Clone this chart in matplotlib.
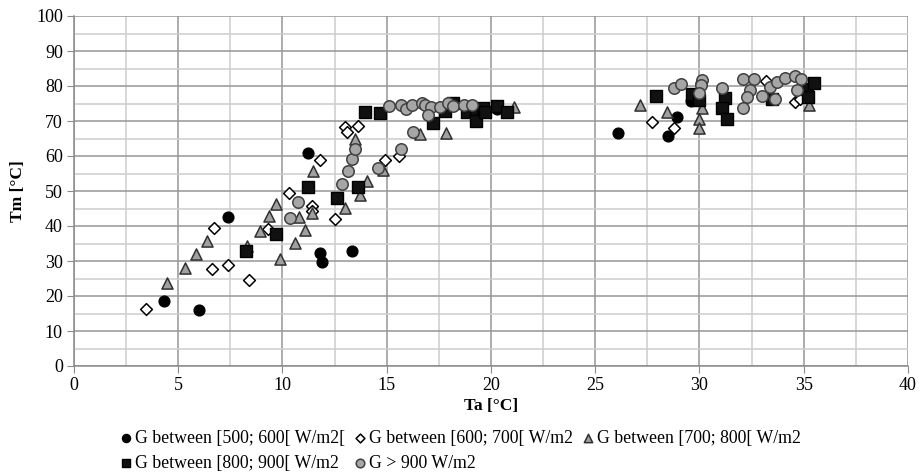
import matplotlib
matplotlib.use("Agg")
import matplotlib.pyplot as plt
from matplotlib.ticker import MultipleLocator

plt.rcParams['font.family'] = ['Liberation Serif', 'DejaVu Serif']

labels = ["G between [500; 600[ W/m2[", "G between [600; 700[ W/m2",
          "G between [700; 800[ W/m2", "G between [800; 900[ W/m2", "G > 900 W/m2"]

s1_x = [4.3, 6.0, 7.4, 11.2, 11.8, 11.9, 13.35, 20.3, 26.1, 28.5, 28.9, 29.6]
s1_y = [18.5, 16.0, 42.6, 61.0, 32.2, 29.8, 32.8, 73.5, 66.7, 65.7, 71.1, 75.6]

s2_x = [3.45, 6.6, 6.7, 7.4, 8.4, 9.3, 10.3, 11.4, 11.4, 11.8, 12.5, 13.0, 13.1, 13.6,
        14.9, 15.6, 27.7, 28.8, 33.2, 34.6, 34.8]
s2_y = [16.3, 27.7, 39.4, 28.8, 24.6, 39.1, 49.4, 45.7, 44.3, 58.9, 41.9, 68.3, 66.8, 68.5,
        58.9, 59.9, 69.7, 68.0, 81.3, 75.4, 76.2]

s3_x = [4.46, 5.3, 5.85, 6.4, 8.3, 8.9, 9.35, 9.7, 9.9, 10.6, 10.8, 11.1, 11.4, 11.45,
        13.0, 13.5, 13.7, 14.05, 14.8, 16.6, 17.85, 21.1, 27.15, 28.45, 30.1, 30.0, 30.0, 35.25]
s3_y = [23.8, 28.0, 32.0, 35.7, 34.2, 38.6, 42.9, 46.3, 30.6, 35.1, 42.5, 38.9, 43.7, 55.7,
        45.1, 64.9, 48.9, 52.9, 56.0, 66.3, 66.6, 74.0, 74.5, 72.6, 73.7, 70.6, 68.0, 74.7]

s4_x = [8.25, 9.7, 11.2, 12.6, 13.6, 13.95, 14.7, 17.2, 17.8, 18.2, 18.85, 19.3, 19.3, 19.6,
        19.7, 20.3, 20.75, 27.9, 29.65, 30.0, 31.2, 31.1, 31.3, 33.5, 35.15, 35.5, 35.2]
s4_y = [32.9, 37.7, 51.2, 48.0, 51.2, 72.6, 72.4, 69.5, 73.0, 75.2, 72.6, 72.6, 70.1, 73.6,
        72.6, 74.4, 72.6, 77.2, 77.8, 76.0, 76.5, 73.7, 70.6, 76.4, 79.1, 80.8, 76.8]

s5_x = [10.35, 10.75, 12.85, 13.15, 13.35, 13.5, 14.6, 15.7, 16.25, 15.1, 15.7, 15.9, 16.2,
        16.7, 16.85, 17.1, 17.0, 17.55, 17.95, 18.2, 18.7, 19.1, 28.8, 29.1, 30.05, 30.1,
        30.05, 30.0, 31.1, 32.1, 32.6, 32.4, 32.3, 32.1, 33.0, 33.4, 33.7, 33.6, 34.1, 34.6,
        34.85, 34.7]
s5_y = [42.3, 46.8, 52.0, 55.7, 59.1, 61.9, 56.6, 62.1, 66.9, 74.2, 74.6, 73.4, 74.5,
        75.1, 74.6, 74.0, 71.6, 74.1, 75.2, 74.3, 74.6, 74.5, 79.4, 80.7, 80.6, 81.6,
        80.3, 78.0, 79.3, 82.1, 82.1, 79.0, 76.9, 73.7, 77.2, 79.7, 81.1, 76.2, 82.4, 82.9,
        82.1, 78.9]

fig = plt.figure(figsize=(9.2, 4.74), dpi=100)
ax = fig.add_axes([74/920, 1-366/474, (908-74)/920, (366-16)/474])

h1 = ax.scatter(s1_x, s1_y, s=60, marker='o', facecolor='black', edgecolor='black', linewidth=1, zorder=3)
h2 = ax.scatter(s2_x, s2_y, s=36, marker='D', facecolor='white', edgecolor='black', linewidth=1.1, zorder=4)
h3 = ax.scatter(s3_x, s3_y, s=64, marker='^', facecolor='#a0a0a0', edgecolor='#303030', linewidth=1.1, zorder=5)
h4 = ax.scatter(s4_x, s4_y, s=64, marker='s', facecolor='#111111', edgecolor='black', linewidth=1, zorder=6)
h5 = ax.scatter(s5_x, s5_y, s=68, marker='o', facecolor='#a6a6a6', edgecolor='#404040', linewidth=1.1, zorder=7)

ax.set_xlim(0, 40)
ax.set_ylim(0, 100)
ax.xaxis.set_major_locator(MultipleLocator(5))
ax.xaxis.set_minor_locator(MultipleLocator(2.5))
ax.yaxis.set_major_locator(MultipleLocator(10))
ax.yaxis.set_minor_locator(MultipleLocator(5))
ax.grid(which='major', color='#969696', linewidth=1.1, zorder=0)
ax.grid(which='minor', color='#cdcdcd', linewidth=1.1, zorder=0)
ax.set_axisbelow(True)
for sp in ['top', 'right']:
    ax.spines[sp].set_visible(False)
for sp in ['left', 'bottom']:
    ax.spines[sp].set_color('#8a8a8a')
    ax.spines[sp].set_linewidth(1.1)
ax.tick_params(which='major', length=5, color='#8a8a8a', labelsize=13, pad=3)
ax.tick_params(which='minor', length=0)

ax.set_xlabel('Ta [°C]', fontsize=12.5, fontweight='bold', labelpad=3)
ax.set_ylabel('Tm [°C]', fontsize=12.5, fontweight='bold', labelpad=7)

handles = [h1, h2, h3, h4, h5]
order = [0, 3, 1, 4, 2]
leg = fig.legend([handles[i] for i in order], [labels[i] for i in order], ncol=3,
                 loc='upper left', bbox_to_anchor=(110/920, 1-423/474), frameon=False,
                 fontsize=12.8, handletextpad=0.0, columnspacing=0.35, handlelength=1.0,
                 labelspacing=0.45, borderaxespad=0, markerscale=0.75)

fig.savefig('out.png', dpi=100)
